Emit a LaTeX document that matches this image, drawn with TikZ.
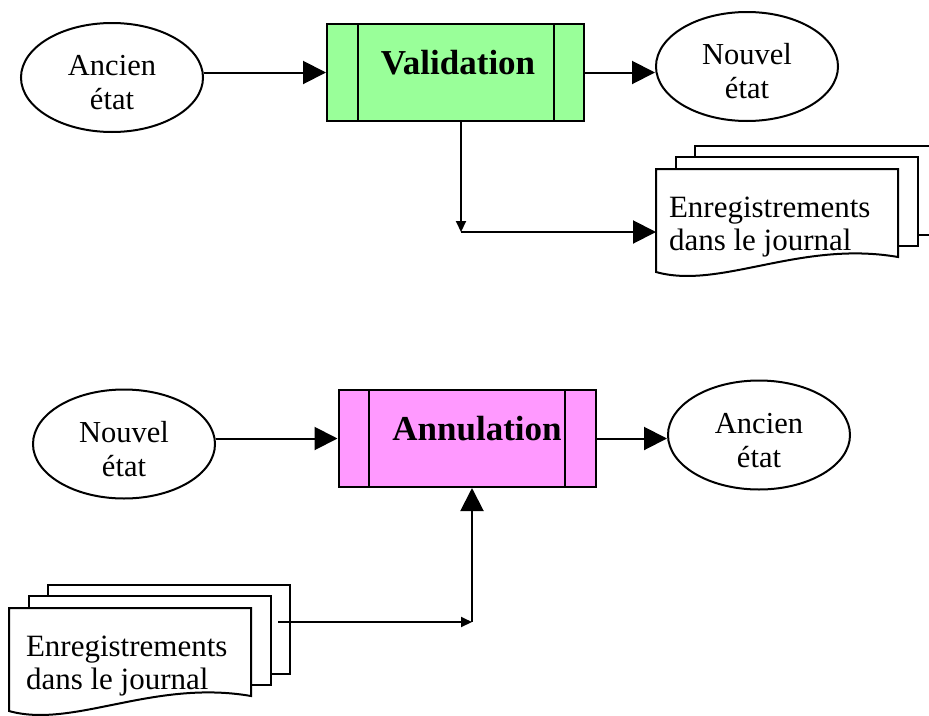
\documentclass[tikz,border=0pt]{standalone}
\usepackage{fontspec}
\setmainfont{Liberation Serif}
\usetikzlibrary{positioning,arrows.meta,shapes.geometric,calc}
\definecolor{valgreen}{RGB}{153,255,153}
\definecolor{annpink}{RGB}{255,153,255}
\newcommand\etatstrut{\rule{0pt}{31pt}}

\begin{document}
\begin{tikzpicture}[x=1pt, y=-1pt, line width=2pt,
  etat/.style={draw, ellipse, minimum width=182pt, minimum height=109pt,
    align=center, font=\fontsize{30.5}{34}\selectfont},
  procbox/.style={draw, minimum width=257pt, minimum height=97pt},
  proctext/.style={font=\fontsize{35}{40}\selectfont\bfseries},
  doctext/.style={align=left, anchor=west, inner sep=0pt,
    font=\fontsize{31}{33}\selectfont},
  bigtip/.style={-{Triangle[length=23pt,width=23pt]}},
  smalltip/.style={-{Triangle[length=11pt,width=10pt]}}]
\useasboundingbox (0,0) rectangle (929,715);
% y runs downwards, one unit is one point

% commit: old state -> validation -> new state
\node[etat] (oldA) at (112,77.5) {\etatstrut Ancien\\état};
\node[procbox, fill=valgreen] (val) at (455.5,72.5) {};
\node[etat] (newA) at (747,66.5) {\etatstrut Nouvel\\état};

% rollback: new state -> annulation -> old state
\node[etat] (newB) at (124,444) {\etatstrut Nouvel\\état};
\node[procbox, fill=annpink] (ann) at (467,438.5) {};
\node[etat] (oldB) at (759,435) {\etatstrut Ancien\\état};

% side bars of the process boxes
\foreach \b in {val,ann}{%
  \draw ($(\b.north west)+(31.5,0)$) -- ($(\b.south west)+(31.5,0)$);
  \draw ($(\b.north east)+(-31.5,0)$) -- ($(\b.south east)+(-31.5,0)$);}
\node[proctext] (valT) at (458,63) {Validation};
\node[proctext] (annT) at (477,429) {Annulation};

% journal stacks: two sheets behind, the front one with a wavy foot
\foreach \j/\x/\y/\tx in {jv/656/169/12, ja/9/608/16}{%
  \coordinate (\j) at (\x,\y);
  \foreach \dx/\dy in {39/-23, 20/-12}
    \draw[fill=white] ($(\j)+(\dx,\dy)$) rectangle ++(242,89);
  \draw[fill=white] (\j) -- ($(\j)+(242,0)$) -- ($(\j)+(242,88)$)
    .. controls ($(\j)+(144,71)$) and ($(\j)+(64,121)$) .. ($(\j)+(0,103)$) -- cycle;
  \node[doctext] (\j T) at ($(\j)+(\tx,58)$) {Enregistrements\\dans le journal};}

% connectors
\draw[bigtip] (oldA.east |- val) -- (val.west);
\draw[bigtip] (val.east) -- (val.east -| newA.west);
\coordinate (vturn) at (461,232);
\draw[smalltip] (vturn |- val.south) -- (vturn);
\draw[bigtip] (vturn) -- (vturn -| jv);

\draw[bigtip] (newB.east |- ann) -- (ann.west);
\draw[bigtip] (ann.east) -- (ann.east -| oldB.west);
\coordinate (jaout) at ($(ja)+(269,14)$);
\coordinate (aturn) at (472,622);
\draw[smalltip] (jaout) -- (aturn);
\draw[bigtip] (aturn) -- (aturn |- ann.south);
\end{tikzpicture}
\end{document}
